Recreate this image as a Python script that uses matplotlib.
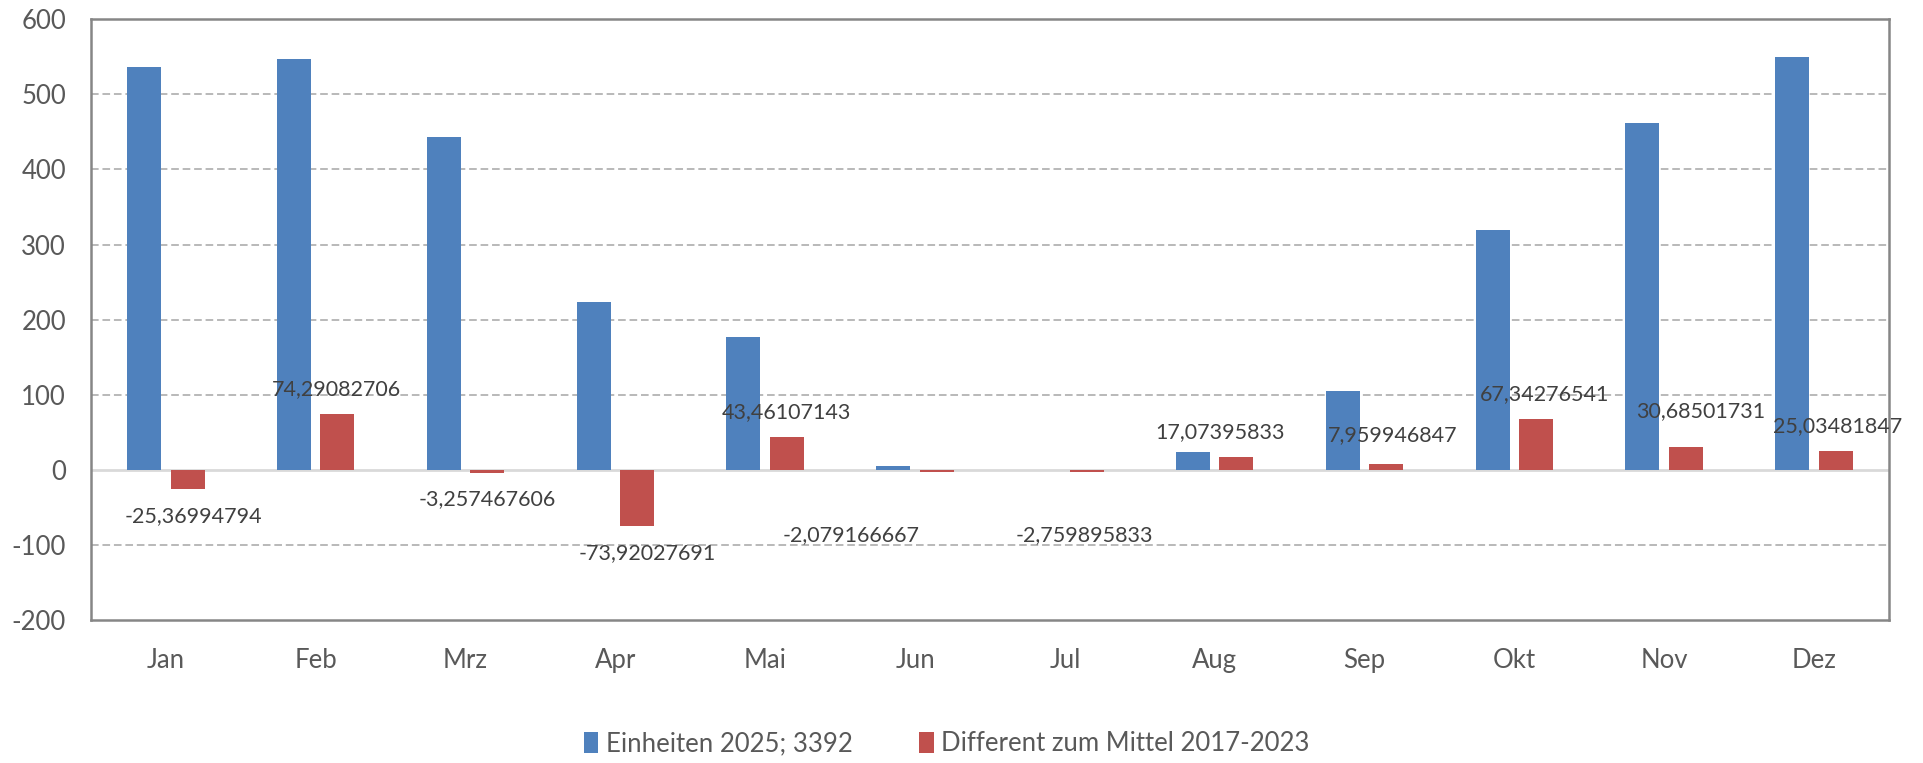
import matplotlib.pyplot as plt
import numpy as np

plt.rcParams['font.family'] = ['Lato', 'DejaVu Sans']
plt.rcParams['axes.unicode_minus'] = False

months = ['Jan', 'Feb', 'Mrz', 'Apr', 'Mai', 'Jun', 'Jul', 'Aug', 'Sep', 'Okt', 'Nov', 'Dez']
einheiten = [536, 547, 443, 224, 177, 5, 0, 24, 105, 320, 462, 549]
differenz = [-25.36994794, 74.29082706, -3.257467606, -73.92027691, 43.46107143,
             -2.079166667, -2.759895833, 17.07395833, 7.959946847, 67.34276541,
             30.68501731, 25.03481847]
labels = ['-25,36994794', '74,29082706', '-3,257467606', '-73,92027691', '43,46107143',
          '-2,079166667', '-2,759895833', '17,07395833', '7,959946847', '67,34276541',
          '30,68501731', '25,03481847']

# label nudges in pixels (dx, dy) where excel labels were moved by hand
nudge = {0: (6, 0), 1: (-1, 0), 3: (10, 0), 5: (-86, -36), 6: (-2, -36),
         7: (-16, 0), 8: (6, 4), 9: (8, 0), 10: (15, 11), 11: (2, 0)}

blue = '#4F81BD'
red = '#C0504D'
grey_txt = '#595959'

fig = plt.figure(figsize=(19.23, 7.63), dpi=100)
ax = fig.add_axes([0.0473, 0.1868, 0.9350, 0.7883])

x = np.arange(len(months))
w = 0.227
off = 0.145
ax.bar(x - off, einheiten, w, color=blue, linewidth=0,
       label='Einheiten 2025; 3392', zorder=3)
ax.bar(x + off, differenz, w, color=red, linewidth=0,
       label='Different zum Mittel 2017-2023', zorder=3)

for i, (v, t) in enumerate(zip(differenz, labels)):
    dx, dy = nudge.get(i, (0, 0))
    base = 25 if v >= 0 else -27
    ax.annotate(t, (x[i] + off, v), xytext=(dx, base + dy), textcoords='offset pixels',
                ha='center', va='center', fontsize=15.5, color='#404040', zorder=4)

ax.set_xlim(-0.5, 11.5)
ax.set_ylim(-200, 600)
ax.set_yticks(range(-200, 601, 100))
ax.set_xticks(x)
ax.set_xticklabels(months)
ax.tick_params(axis='both', length=0, labelsize=18.5, colors=grey_txt)
ax.tick_params(axis='y', pad=18)
ax.tick_params(axis='x', pad=20)

for yv in [-100, 100, 200, 300, 400, 500]:
    ax.axhline(yv, color='#A6A6A6', linewidth=1.1, linestyle=(0, (5, 2.5)), zorder=1)
ax.axhline(0, color='#D9D9D9', linewidth=2, zorder=2)

for s in ax.spines.values():
    s.set_color('#868686')
    s.set_linewidth(1.8)

fig.legend(loc='center', bbox_to_anchor=(0.4924, 0.025), ncol=2, frameon=False,
           fontsize=18.5, handlelength=0.55, handleheight=0.9, handletextpad=0.3,
           columnspacing=2.6, labelcolor=grey_txt)

fig.savefig('out.png', dpi=100)
